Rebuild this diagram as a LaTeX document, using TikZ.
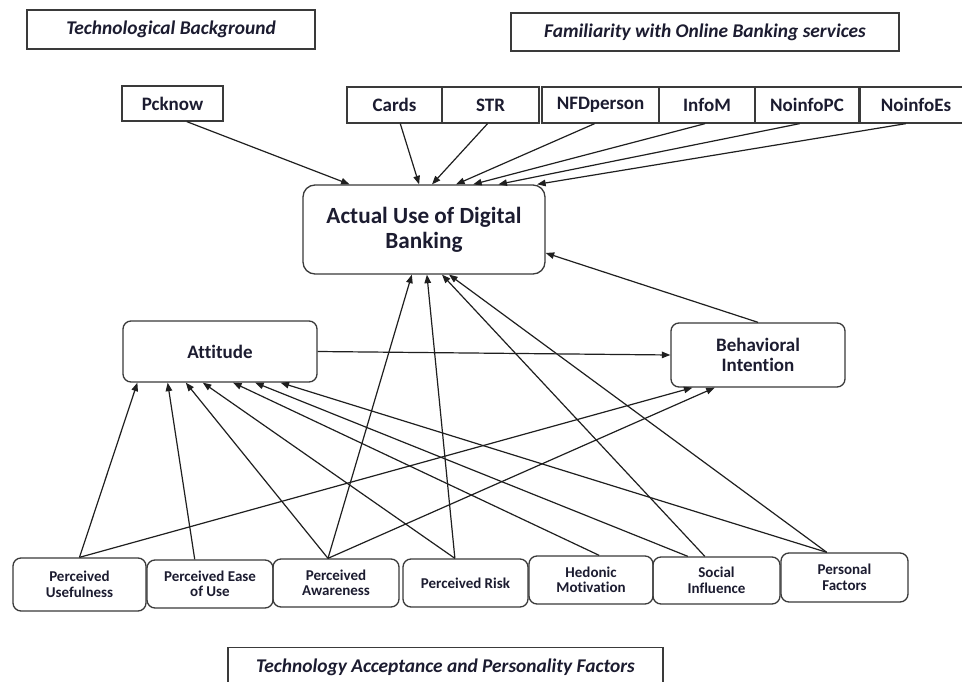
\documentclass[tikz,border=0pt]{standalone}
\usepackage{fontspec}
\setmainfont[Ligatures=NoCommon]{Carlito}
\usetikzlibrary{arrows.meta,calc}
\definecolor{txt}{HTML}{1C1C30}
\definecolor{edge}{HTML}{3A3A3A}
\begin{document}
\begin{tikzpicture}[x=1pt,y=-1pt,
  titlebox/.style={draw=edge,line width=1.3pt,inner sep=0pt,text=txt,
    font=\fontsize{19.4}{21}\selectfont\bfseries\itshape},
  sqbox/.style={draw=edge,line width=1.3pt,inner sep=0pt,text=txt,
    font=\fontsize{19}{21}\selectfont\bfseries},
  mainbox/.style={draw=edge,line width=1.3pt,inner sep=0pt,text=txt,align=center,
    rounded corners=8pt,font=\fontsize{19}{20.5}\selectfont\bfseries},
  smallbox/.style={draw=edge,line width=1.3pt,inner sep=0pt,text=txt,align=center,
    rounded corners=8pt,font=\fontsize{15}{15.5}\selectfont\bfseries},
  conn/.style={draw=black!88,line width=1.2pt,-{Triangle[length=8.5pt,width=6.5pt]}}]
\useasboundingbox[fill=white] (0,0) rectangle (962,682);

% titles
\node[titlebox,minimum width=288pt,minimum height=39pt] (tb) at (171,29.5) {Technological Background};
\node[titlebox,minimum width=388pt,minimum height=38pt] (fam) at (705,32) {Familiarity with Online Banking services};
\node[titlebox,minimum width=435pt,minimum height=46pt,anchor=north] (tap) at (445.5,647) {\raisebox{9pt}{Technology Acceptance and Personality Factors}};

% top row
\node[sqbox,minimum width=101pt,minimum height=35pt] (pck) at (172.5,103.5) {Pcknow};
\node[sqbox,minimum width=95pt,minimum height=36pt] (cards) at (394.5,105) {Cards};
\node[sqbox,minimum width=97pt,minimum height=36pt] (str) at (490.5,105) {STR};
\node[sqbox,minimum width=117pt,minimum height=36pt] (nfd) at (600.5,105) {NFDperson};
\node[sqbox,minimum width=96pt,minimum height=36pt] (infom) at (707,105) {InfoM};
\node[sqbox,minimum width=104pt,minimum height=36pt] (npc) at (807,105) {NoinfoPC};
\node[sqbox,minimum width=112pt,minimum height=36pt] (nes) at (916,105) {NoinfoEs};

% central boxes
\node[mainbox,rounded corners=12pt,minimum width=242pt,minimum height=89pt,
  font=\fontsize{23.2}{25}\selectfont\bfseries] (act) at (424,229.5) {Actual Use of Digital\\Banking};
\node[mainbox,minimum width=194pt,minimum height=61pt] (att) at (220,351.5) {Attitude};
\node[mainbox,minimum width=174pt,minimum height=64pt] (bi) at (758,355) {Behavioral\\Intention};

% bottom row
\node[smallbox,minimum width=133pt,minimum height=53pt] (pu) at (79.5,584.5) {Perceived\\Usefulness};
\node[smallbox,minimum width=126pt,minimum height=48pt] (peu) at (210,584) {Perceived Ease\\of Use};
\node[smallbox,minimum width=126pt,minimum height=48pt] (pa) at (336,583) {Perceived\\Awareness};
\node[smallbox,minimum width=125pt,minimum height=48pt] (pr) at (465.5,583) {Perceived Risk};
\node[smallbox,minimum width=124pt,minimum height=48pt] (hm) at (591,580) {Hedonic\\Motivation};
\node[smallbox,minimum width=127pt,minimum height=47pt] (si) at (716.5,580.5) {Social\\Influence};
\node[smallbox,minimum width=127pt,minimum height=49pt] (pf) at (844.5,577.5) {Personal\\Factors};

% top row -> actual use
\draw[conn] ($(pck.south west)!0.64!(pck.south east)$) -- ($(act.north west)!0.194!(act.north east)$);
\draw[conn] ($(cards.south west)!0.56!(cards.south east)$) -- ($(act.north west)!0.48!(act.north east)$);
\draw[conn] ($(str.south west)!0.47!(str.south east)$) -- ($(act.north west)!0.533!(act.north east)$);
\draw[conn] ($(nfd.south west)!0.45!(nfd.south east)$) -- ($(act.north west)!0.632!(act.north east)$);
\draw[conn] ($(infom.south west)!0.48!(infom.south east)$) -- ($(act.north west)!0.702!(act.north east)$);
\draw[conn] ($(npc.south west)!0.43!(npc.south east)$) -- ($(act.north west)!0.806!(act.north east)$);
\draw[conn] ($(nes.south west)!0.41!(nes.south east)$) -- ($(act.north west)!0.965!(act.north east)$);

% attitude -> BI, BI -> actual
\draw[conn] (att.east) -- (bi.west);
\draw[conn] (bi.north) -- ($(act.north east)!0.76!(act.south east)$);

% bottom row -> attitude
\draw[conn] (pu.north) -- ($(att.south west)!0.077!(att.south east)$);
\draw[conn] ($(peu.north west)!0.38!(peu.north east)$) -- ($(att.south west)!0.232!(att.south east)$);
\draw[conn] ($(pa.north west)!0.437!(pa.north east)$) -- ($(att.south west)!0.325!(att.south east)$);
\draw[conn] ($(pr.north west)!0.416!(pr.north east)$) -- ($(att.south west)!0.412!(att.south east)$);
\draw[conn] ($(hm.north west)!0.565!(hm.north east)$) -- ($(att.south west)!0.567!(att.south east)$);
\draw[conn] ($(si.north west)!0.276!(si.north east)$) -- ($(att.south west)!0.68!(att.south east)$);
\draw[conn] ($(pf.north west)!0.362!(pf.north east)$) -- ($(att.south west)!0.81!(att.south east)$);

% bottom row -> actual use
\draw[conn] ($(pa.north west)!0.437!(pa.north east)$) -- ($(act.south west)!0.45!(act.south east)$);
\draw[conn] ($(pr.north west)!0.416!(pr.north east)$) -- ($(act.south west)!0.512!(act.south east)$);
\draw[conn] ($(si.north west)!0.409!(si.north east)$) -- ($(act.south west)!0.574!(act.south east)$);
\draw[conn] ($(pf.north west)!0.362!(pf.north east)$) -- ($(act.south west)!0.603!(act.south east)$);

% bottom row -> BI
\draw[conn] (pu.north) -- ($(bi.south west)!0.126!(bi.south east)$);
\draw[conn] ($(pa.north west)!0.437!(pa.north east)$) -- ($(bi.south west)!0.253!(bi.south east)$);
\end{tikzpicture}
\end{document}
